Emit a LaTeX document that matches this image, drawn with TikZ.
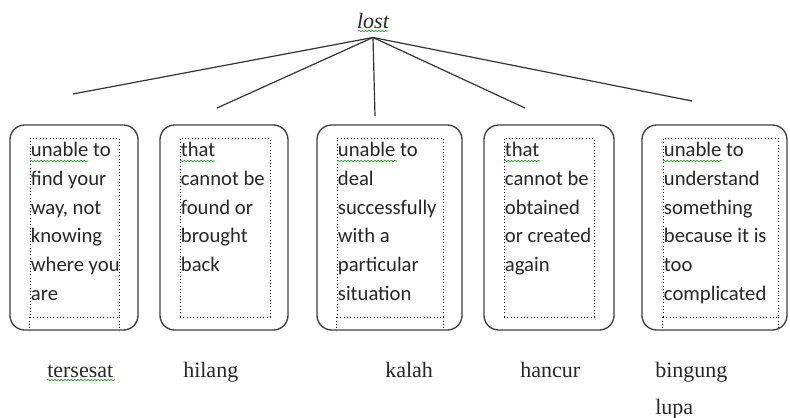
\documentclass[tikz,border=0pt]{standalone}
\usepackage{fontspec}
\setmainfont{Liberation Serif}
\newfontfamily\glossfont{Carlito}
\usetikzlibrary{positioning,decorations.pathmorphing}

\begin{document}
\begin{tikzpicture}[x=0.75pt,y=-0.75pt,
    card/.style={draw=black!75,line width=1pt,rounded corners=11pt,minimum height=153.75pt},
    frame/.style={draw,dotted,line width=0.5pt,minimum height=134.25pt},
    gloss/.style={anchor=north west,inner sep=0pt,align=left,text=black!85,font=\glossfont\fontsize{15.5}{21.5}\selectfont},
    word/.style={anchor=base west,inner sep=0pt,text=black!85,font=\fontsize{16.5}{20}\selectfont},
    branch/.style={draw=black!80,line width=0.9pt},
    squiggle/.style={draw=green!55!black,line width=0.4pt,decorate,decoration={snake,amplitude=0.5pt,segment length=2.5pt}}]
    \useasboundingbox (0,0) rectangle (790,418);

    % head word
    \node[anchor=base,inner sep=6.75pt,text=black!85,font=\itshape\fontsize{16.5}{20}\selectfont] (lost) at (373,28) {lost};
    \draw[squiggle] (358,31) -- (388,31);

    % free ends of the branches
    \coordinate (e1) at (73,94);
    \coordinate (e2) at (217,108);
    \coordinate (e3) at (375,116);
    \coordinate (e4) at (525,108);
    \coordinate (e5) at (692,101);

    % branches
    \draw[branch] (lost.south) -- (e1);
    \draw[branch] (lost.south) -- (e2);
    \draw[branch] (lost.south) -- (e3);
    \draw[branch] (lost.south) -- (e4);
    \draw[branch] (lost.south) -- (e5);

    % rounded cards
    \node[card,minimum width=96pt] (box1) at (74,227.5) {};
    \node[card,minimum width=96pt] (box2) at (224,227.5) {};
    \node[card,minimum width=108.75pt] (box3) at (389.5,227.5) {};
    \node[card,minimum width=97.5pt] (box4) at (549,227.5) {};
    \node[card,minimum width=108.75pt] (box5) at (714.5,227.5) {};

    % dotted text frames
    \node[frame,minimum width=66.75pt] (frame1) at (74.5,227.5) {};
    \node[frame,minimum width=67.5pt] (frame2) at (225,227.5) {};
    \node[frame,minimum width=79.5pt] (frame3) at (390,227.5) {};
    \node[frame,minimum width=67.5pt] (frame4) at (549,227.5) {};
    \node[frame,minimum width=86.25pt] (frame5) at (720.5,227.5) {};

    % frame sides running down to the card edge
    \draw[dotted,line width=0.5pt] (frame1.south west) -- (frame1.south west |- box1.south);
    \draw[dotted,line width=0.5pt] (frame1.south east) -- (frame1.south east |- box1.south);
    \draw[dotted,line width=0.5pt] (frame3.south west) -- (frame3.south west |- box3.south);
    \draw[dotted,line width=0.5pt] (frame3.south east) -- (frame3.south east |- box3.south);
    \draw[dotted,line width=0.5pt] (frame5.south west) -- (frame5.south west |- box5.south);
    \draw[dotted,line width=0.5pt] (frame5.south east) -- (frame5.south east |- box5.south);

    % meanings
    \node[gloss] (text1) at ([xshift=0.75pt,yshift=-3.4pt]frame1.north west) {unable to\\find your\\way, not\\knowing\\where you\\are};
    \node[gloss] (text2) at ([xshift=0.75pt,yshift=-3.4pt]frame2.north west) {that\\cannot be\\found or\\brought\\back};
    \node[gloss] (text3) at ([xshift=0.75pt,yshift=-3.4pt]frame3.north west) {unable to\\deal\\successfully\\with a\\particular\\situation};
    \node[gloss] (text4) at ([xshift=0.75pt,yshift=-3.4pt]frame4.north west) {that\\cannot be\\obtained\\or created\\again};
    \node[gloss] (text5) at ([xshift=0.75pt,yshift=-3.4pt]frame5.north west) {unable to\\understand\\something\\because it is\\too\\complicated};

    % spelling marks
    \draw[squiggle] (30,161) -- (88,161);
    \draw[squiggle] (180,161) -- (215,161);
    \draw[squiggle] (337,161) -- (397,161);
    \draw[squiggle] (504,161) -- (540,161);
    \draw[squiggle] (663,161) -- (722,161);

    % translations
    \node[word] (tersesat) at (47,377) {tersesat};
    \node[word] (hilang) at (183,377) {hilang};
    \node[word] (kalah) at (385,377) {kalah};
    \node[word] (hancur) at (520,377) {hancur};
    \node[word] (bingung) at (655,377) {bingung};
    \node[word] (lupa) at (655,414) {lupa};
    \draw[squiggle] (47,380) -- (115,380);
\end{tikzpicture}
\end{document}
